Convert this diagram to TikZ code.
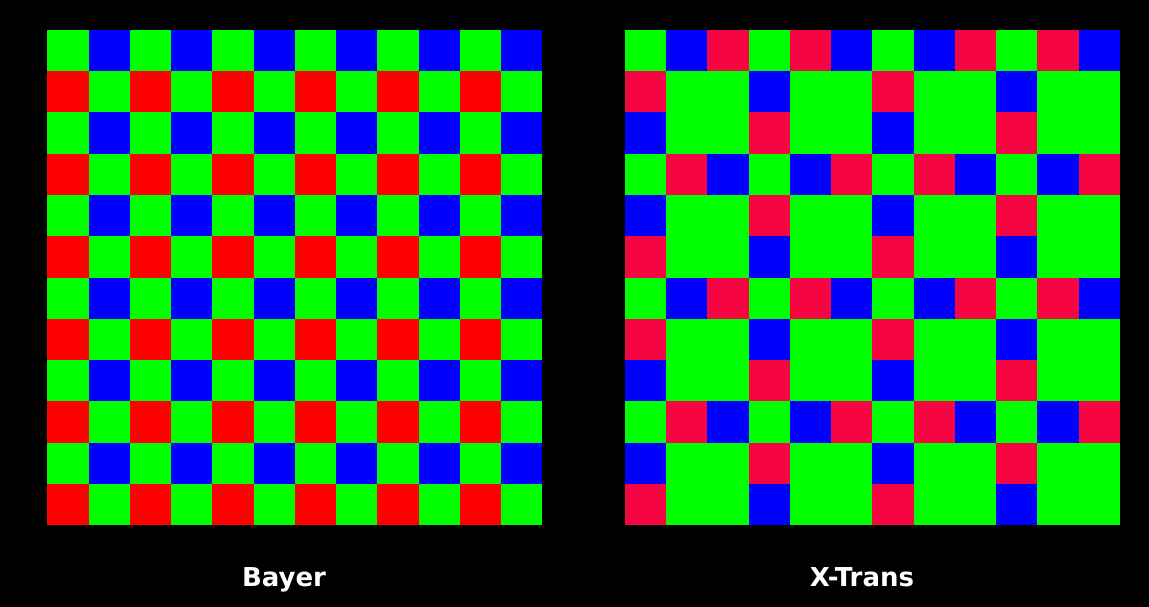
\documentclass[tikz,border=0pt]{standalone}
\usepackage{fontspec}
\setmainfont{DejaVu Sans}
\definecolor{pixG}{RGB}{0, 255, 0}
\definecolor{pixB}{RGB}{0, 0, 255}
\definecolor{pixR}{RGB}{255, 0, 0}
\definecolor{pixX}{RGB}{245, 5, 65}
\usetikzlibrary{positioning}

\tikzset{
  pxG/.style={fill=pixG},
  pxB/.style={fill=pixB},
  pxR/.style={fill=pixR},
  pxX/.style={fill=pixX},
  caption/.style={text=white, anchor=base, font=\fontsize{26}{30}\selectfont\bfseries}
}

\begin{document}
\begin{tikzpicture}[x=1pt, y=-1pt]
  \fill[black] (0,0) rectangle (1149,607);

  % Bayer mosaic
  \foreach \row [count=\r from 0] in {
      {G,B,G,B,G,B,G,B,G,B,G,B}, {R,G,R,G,R,G,R,G,R,G,R,G},
      {G,B,G,B,G,B,G,B,G,B,G,B}, {R,G,R,G,R,G,R,G,R,G,R,G},
      {G,B,G,B,G,B,G,B,G,B,G,B}, {R,G,R,G,R,G,R,G,R,G,R,G},
      {G,B,G,B,G,B,G,B,G,B,G,B}, {R,G,R,G,R,G,R,G,R,G,R,G},
      {G,B,G,B,G,B,G,B,G,B,G,B}, {R,G,R,G,R,G,R,G,R,G,R,G},
      {G,B,G,B,G,B,G,B,G,B,G,B}, {R,G,R,G,R,G,R,G,R,G,R,G}} {
    \foreach \col [count=\c from 0] in \row {
      \fill[px\col] (47.3+41.25*\c, 30+41.25*\r) rectangle ++(41.25,41.25);
    }
  }

  % X-Trans mosaic
  \foreach \row [count=\r from 0] in {
      {G,B,X,G,X,B,G,B,X,G,X,B}, {X,G,G,B,G,G,X,G,G,B,G,G},
      {B,G,G,X,G,G,B,G,G,X,G,G}, {G,X,B,G,B,X,G,X,B,G,B,X},
      {B,G,G,X,G,G,B,G,G,X,G,G}, {X,G,G,B,G,G,X,G,G,B,G,G},
      {G,B,X,G,X,B,G,B,X,G,X,B}, {X,G,G,B,G,G,X,G,G,B,G,G},
      {B,G,G,X,G,G,B,G,G,X,G,G}, {G,X,B,G,B,X,G,X,B,G,B,X},
      {B,G,G,X,G,G,B,G,G,X,G,G}, {X,G,G,B,G,G,X,G,G,B,G,G}} {
    \foreach \col [count=\c from 0] in \row {
      \fill[px\col] (624.8+41.25*\c, 30+41.25*\r) rectangle ++(41.25,41.25);
    }
  }

  \node[caption] (bayer) at (284,586) {Bayer};
  \node[caption] (xtrans) at (862,586) {X-Trans};
\end{tikzpicture}
\end{document}
